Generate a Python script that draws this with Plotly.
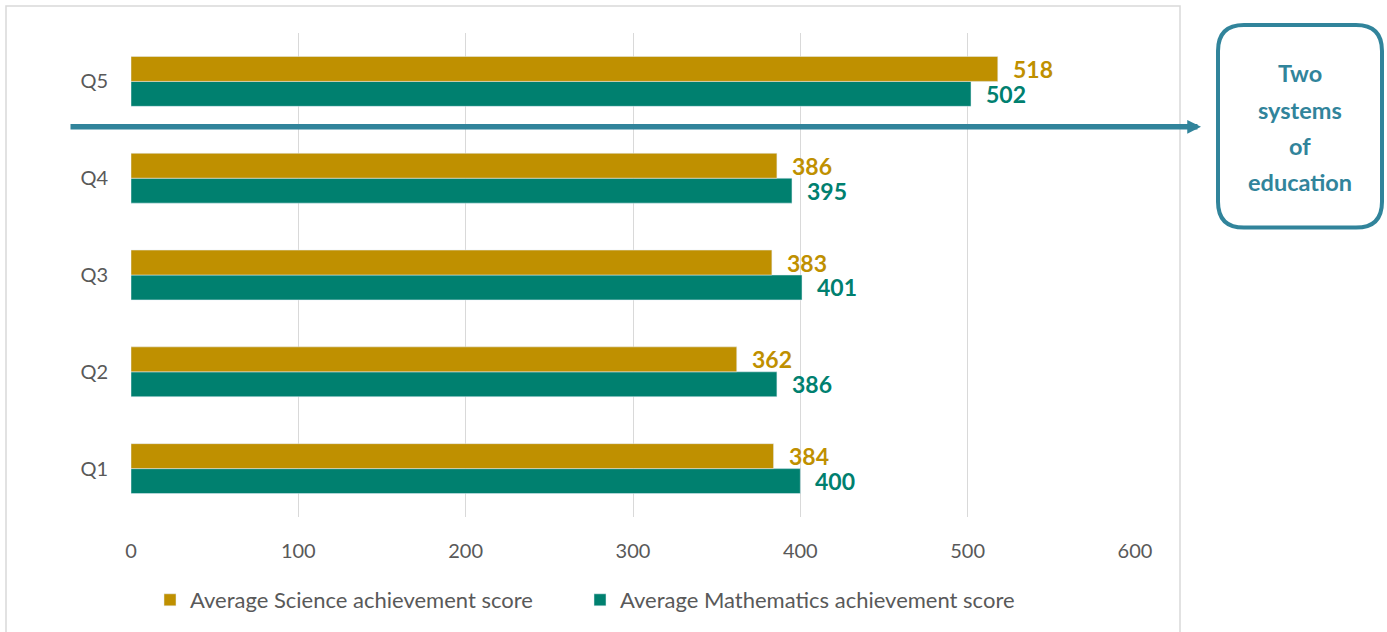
import plotly.graph_objects as go

categories = ["Q1", "Q2", "Q3", "Q4", "Q5"]
science = [384, 362, 383, 386, 518]
maths = [400, 386, 401, 395, 502]
x_ticks = [0, 100, 200, 300, 400, 500, 600]
box_lines = ["Two", "systems", "of", "education"]

GOLD = "#BF9000"
TEAL = "#00806F"
BLUE = "#31849B"
GREY = "#595959"
FONT = "Lato"

# plot area in pixels
L, R, T, B = 131, 1135, 33, 518
W, H = R - L, B - T


def px(x):
    return (x - L) / W


def py(y):
    return (B - y) / H


fig = go.Figure()
fig.add_trace(go.Bar(
    y=categories, x=maths, orientation="h", name="Average Mathematics achievement score",
    marker=dict(color=TEAL), legend="legend2",
))
fig.add_trace(go.Bar(
    y=categories, x=science, orientation="h", name="Average Science achievement score",
    marker=dict(color=GOLD), legend="legend",
))

ann = []
off = 0.129
for i, (s, m) in enumerate(zip(science, maths)):
    ann.append(dict(x=s, y=i + off, xref="x", yref="y", text=f"<b>{s}</b>", showarrow=False,
                    xanchor="left", yanchor="middle", xshift=13,
                    font=dict(family=FONT, size=23, color=GOLD)))
    ann.append(dict(x=m, y=i - off, xref="x", yref="y", text=f"<b>{m}</b>", showarrow=False,
                    xanchor="left", yanchor="middle", xshift=13,
                    font=dict(family=FONT, size=23, color=TEAL)))

# arrow
ann.append(dict(x=px(1201), y=py(127), xref="paper", yref="paper",
                ax=-(1201 - 69), ay=0, axref="pixel", ayref="pixel",
                showarrow=True, arrowhead=2, arrowsize=0.5, arrowwidth=5.5,
                arrowcolor=BLUE, text=""))

# box text
line_y = [73, 110, 146, 182]
for t, yy in zip(box_lines, line_y):
    ann.append(dict(x=px(1300), y=py(yy), xref="paper", yref="paper", text=f"<b>{t}</b>",
                    showarrow=False, xanchor="center", yanchor="middle",
                    font=dict(family=FONT, size=23.5, color=BLUE)))

# rounded box path
x0, x1 = px(1218), px(1382)
y0, y1 = py(228), py(25)
rx, ry = 26 / W, 26 / H
path = (f"M {x0+rx},{y1} L {x1-rx},{y1} Q {x1},{y1} {x1},{y1-ry} "
        f"L {x1},{y0+ry} Q {x1},{y0} {x1-rx},{y0} L {x0+rx},{y0} "
        f"Q {x0},{y0} {x0},{y0+ry} L {x0},{y1-ry} Q {x0},{y1} {x0+rx},{y1} Z")

shapes = [
    dict(type="rect", xref="paper", yref="paper", x0=px(6), x1=px(1180), y0=py(645), y1=py(6),
         line=dict(color="#D9D9D9", width=1.5), layer="below"),
    dict(type="path", xref="paper", yref="paper", path=path,
         line=dict(color=BLUE, width=4), fillcolor="rgba(0,0,0,0)"),
]

leg_common = dict(orientation="h", y=py(600), xanchor="left", yanchor="middle",
                  font=dict(size=22, color=GREY), itemwidth=30, bgcolor="rgba(0,0,0,0)")

fig.update_layout(
    width=1387, height=632,
    margin=dict(l=L, r=1387 - R, t=T, b=632 - B),
    paper_bgcolor="white", plot_bgcolor="white",
    barmode="group", bargap=0.485, bargroupgap=0,
    font=dict(family=FONT, size=20, color=GREY),
    xaxis=dict(range=[0, 600], tickvals=x_ticks, showgrid=True, gridcolor="#D9D9D9",
               gridwidth=1.3, zeroline=False, showline=False, ticks="",
               ticklabelstandoff=20, tickfont=dict(size=20, color=GREY), fixedrange=True),
    yaxis=dict(categoryorder="array", categoryarray=categories, showgrid=False,
               zeroline=False, showline=False, ticks="", ticklabelstandoff=22,
               tickfont=dict(size=20, color=GREY)),
    legend=dict(x=px(150), **leg_common),
    legend2=dict(x=px(580), **leg_common),
    annotations=ann, shapes=shapes, showlegend=True,
)

fig.write_html("out.html", post_script="document.body.style.margin='0';",
               config={"displayModeBar": False})
